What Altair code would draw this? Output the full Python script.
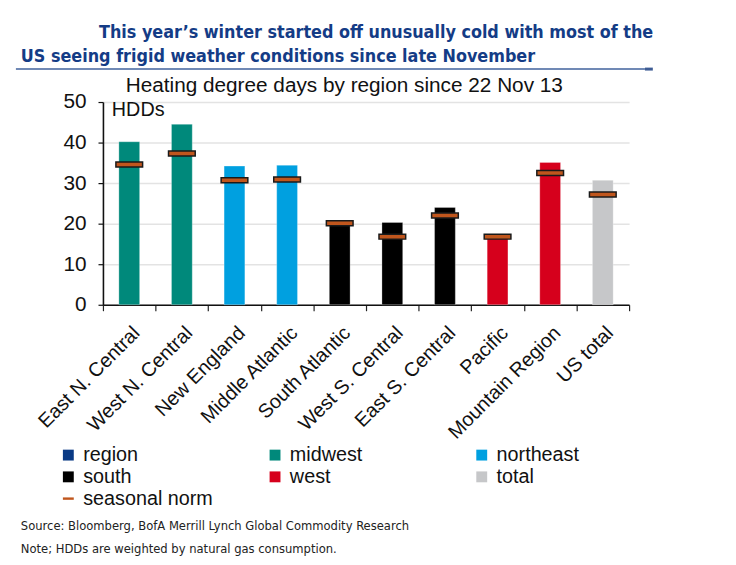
import altair as alt
import pandas as pd

# ---- data ----
regions = ["East N. Central", "West N. Central", "New England", "Middle Atlantic",
           "South Atlantic", "West S. Central", "East S. Central", "Pacific",
           "Mountain Region", "US total"]
groups = ["midwest", "midwest", "northeast", "northeast", "south", "south",
          "south", "west", "west", "total"]
hdd = [40.2, 44.5, 34.2, 34.4, 20.9, 20.3, 24.0, 16.5, 35.1, 30.7]
seasonal_norm = [34.6, 37.3, 30.7, 30.9, 20.1, 16.8, 22.0, 16.8, 32.5, 27.2]

legend_items = ["region", "midwest", "northeast", "south", "west", "total", "seasonal norm"]
legend_colors = ["#0A3A85", "#00897B", "#00A0E0", "#000000", "#D6001C", "#C6C7C9", "#C0561D"]
legend_shapes = ["square", "square", "square", "square", "square", "square",
                 "M-1,-0.22H1V0.22H-1Z"]

y_ticks = [0, 10, 20, 30, 40, 50]

title_line1 = "This year\u2019s winter started off unusually cold with most of the"
title_line2 = "US seeing frigid weather conditions since late November"
subtitle = "Heating degree days by region since 22 Nov 13"
unit_label = "HDDs"
source_line = "Source: Bloomberg, BofA Merrill Lynch Global Commodity Research"
note_line = "Note; HDDs are weighted by natural gas consumption."

df = pd.DataFrame({"region": regions, "group": groups, "hdd": hdd, "norm": seasonal_norm})
legend_df = pd.DataFrame({"group": legend_items})
one = pd.DataFrame({"a": [0]})

SANS = "Liberation Sans, Arial, sans-serif"
NARROW = "DejaVu Sans Condensed, Liberation Sans Narrow, Arial Narrow, sans-serif"

x_enc = alt.X("region:N", sort=regions, title=None,
              scale=alt.Scale(paddingInner=0, paddingOuter=0),
              axis=alt.Axis(labelAngle=-45, labelFontSize=20, labelFont=SANS,
                            labelColor="#111111", tickBand="extent", tickSize=6,
                            tickColor="#222222", tickWidth=1.2, domainColor="#111111",
                            domainWidth=1.6, grid=False, labelPadding=12))
y_enc = alt.Y("hdd:Q", title=None, scale=alt.Scale(domain=[0, 50], nice=False),
              axis=alt.Axis(values=y_ticks, labelFontSize=21, labelFont=SANS,
                            labelColor="#111111", tickSize=5, tickColor="#111111",
                            tickWidth=1.2, domainColor="#111111", domainWidth=1.6,
                            labelPadding=12, grid=True, gridColor="#E3E3E3",
                            gridWidth=1.5))

bars = alt.Chart(df).mark_bar(size=21, stroke="#FFFFFF", strokeOpacity=0.35,
                              strokeWidth=0.8).encode(
    x=x_enc, y=y_enc,
    color=alt.Color("group:N", scale=alt.Scale(domain=legend_items, range=legend_colors),
                    legend=None),
)

norms = alt.Chart(df).mark_tick(size=27, thickness=5, color="#C0561D",
                                stroke="#1A1A1A", strokeWidth=1.5, opacity=1).encode(
    x=alt.X("region:N", sort=regions),
    y=alt.Y("norm:Q"),
)

leg = alt.Legend(title=None, orient="none", legendX=-45, legendY=347, columns=3,
                 direction="horizontal",
                 gridAlign="all", columnPadding=52, rowPadding=2,
                 symbolSize=121, symbolOpacity=1, symbolStrokeWidth=0,
                 labelFontSize=20, labelFont=SANS, labelColor="#111111",
                 labelOffset=5, padding=0)

legend_layer = alt.Chart(legend_df).mark_point(filled=True, opacity=0).encode(
    x=alt.value(0), y=alt.value(0),
    color=alt.Color("group:N", scale=alt.Scale(domain=legend_items, range=legend_colors),
                    legend=leg),
    shape=alt.Shape("group:N", scale=alt.Scale(domain=legend_items, range=legend_shapes),
                    legend=leg),
)


def label(text, x, y, size, font=SANS, weight="normal", color="#111111"):
    return alt.Chart(one).mark_text(text=text, align="left", baseline="alphabetic",
                                    fontSize=size, font=font, fontWeight=weight,
                                    color=color).encode(x=alt.value(x), y=alt.value(y))


title1 = label(title_line1, -4, -65, 18, NARROW, "bold", "#143C86")
title2 = label(title_line2, -83, -40, 18, NARROW, "bold", "#143C86")
rule_main = alt.Chart(one).mark_rule(color="#7089B5", strokeWidth=2).encode(
    x=alt.value(-88), x2=alt.value(548), y=alt.value(-33.3))
rule_end = alt.Chart(one).mark_rule(color="#3E5C94", strokeWidth=3).encode(
    x=alt.value(548), x2=alt.value(556), y=alt.value(-33.3))
sub = label(subtitle, 23, -10, 21)
hdds = label(unit_label, 9, 14, 20)
src = label(source_line, -83, 433, 13, NARROW, "normal", "#222222")
note = label(note_line, -83, 456, 13, NARROW, "normal", "#222222")

chart = alt.layer(
    bars, norms, legend_layer, title1, title2, rule_main, rule_end, sub, hdds, src, note
).resolve_scale(
    color="independent", shape="independent"
).resolve_legend(
    color="independent", shape="independent"
).properties(
    width=532, height=205,
    autosize=alt.AutoSizeParams(type="none"),
    padding={"left": 96, "top": 92, "right": 100, "bottom": 255},
).configure_view(stroke=None)

chart.save("out.html", embed_options={"renderer": "svg", "actions": False})
